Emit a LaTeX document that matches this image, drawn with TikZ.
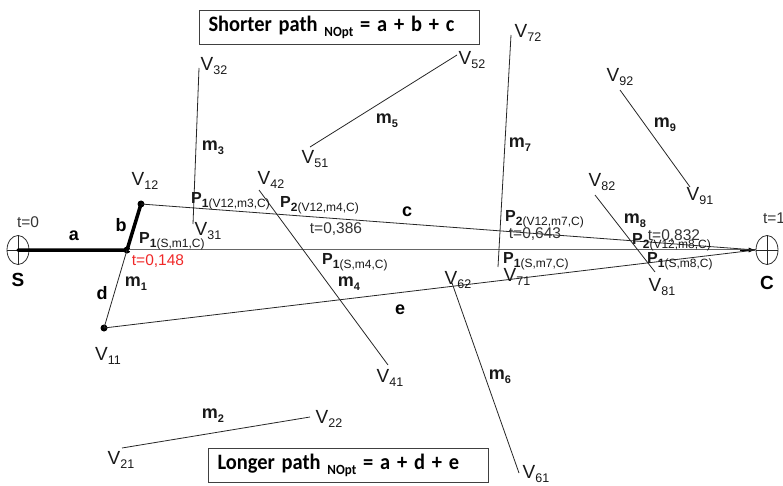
\documentclass[tikz,border=0pt]{standalone}
\usepackage{fontspec}
\setmainfont{Liberation Sans}
\newfontfamily\boxfont{Carlito}
\usetikzlibrary{shapes.geometric,arrows.meta}
\newcommand\fs[1]{\fontsize{#1}{#1}\selectfont}
\newcommand\lsub[3][-4pt]{\raisebox{#1}{\fs{#2}#3}}
\newcommand\Vlab[1]{\fs{19}V\lsub{12.5}{#1}}
\newcommand\mlab[1]{\fs{18}\bfseries m\lsub{11}{#1}}
\newcommand\Plab[2]{\fs{16}\bfseries P\lsub{12}{#1\mdseries #2}}
\newcommand\boxtext[1]{\scalebox{0.93}[1]{#1}}
\definecolor{tred}{RGB}{240,40,40}
\begin{document}
\begin{tikzpicture}[x=1pt,y=-1pt,
  seg/.style={draw=black!85, line width=0.8pt},
  thick path/.style={draw=black, line width=3.5pt},
  axis line/.style={draw=black!60, double=white, double distance=0.7pt, line width=0.6pt},
  lab/.style={inner sep=0pt, anchor=center, text=black!90},
  plab/.style={inner sep=0pt, anchor=west, text=black!90},
  tlab/.style={inner sep=0pt, anchor=center, text=black!80, font=\fs{15.5}},
  bold lab/.style={inner sep=0pt, anchor=center, font=\fs{18}\bfseries},
  dot/.style={circle, fill=black, inner sep=0pt, minimum size=7pt},
  term/.style={draw=black!80, ellipse, minimum width=22pt, minimum height=29pt, inner sep=0pt, line width=0.8pt},
  pathbox/.style={draw=black!75, line width=1pt, minimum height=34pt, anchor=north west,
     inner xsep=9pt, inner ysep=0pt, text width=262pt, align=left, font=\boxfont\bfseries\fs{22}}]
\useasboundingbox (0,0) rectangle (783,486);

% path boxes
\node[pathbox] (short) at (199,10) {\boxtext{Shorter path \lsub[-5pt]{14}{NOpt} = a + b + c}};
\node[pathbox] (long) at (208,448) {\boxtext{Longer path \lsub[-5pt]{14}{NOpt} = a + d + e}};

% terminals
\node[term] (S) at (18,250) {};
\node[term] (C) at (767,250) {};
\draw[seg] (S.north) -- (S.south) (S.west) -- (S.east);
\draw[seg] (C.north) -- (C.south) (C.west) -- (C.east);

% points
\node[dot] (V12) at (141,204) {};
\node[dot] (P1) at (127,250) {};
\node[dot] (V11) at (104,328) {};
\coordinate (V21) at (122,448);  \coordinate (V22) at (310,417);
\coordinate (V31) at (193,224);  \coordinate (V32) at (199,68);
\coordinate (V41) at (388,365);  \coordinate (V42) at (259,190);
\coordinate (V51) at (310,147);  \coordinate (V52) at (457,55);
\coordinate (V61) at (519,473);  \coordinate (V62) at (452,283);
\coordinate (V71) at (498,267);  \coordinate (V72) at (511,35);
\coordinate (V81) at (655,272);  \coordinate (V82) at (595,195);
\coordinate (V91) at (690,187);  \coordinate (V92) at (620,90);
\coordinate (ca) at (740,250);

% main line S-C
\draw[axis line] (P1.center) -- (C.west);
\draw[-{Latex[length=7pt,width=5pt]}, black, line width=0.8pt] (ca) -- (C.west);
\draw[thick path, line cap=round] (S.center) -- (P1.center) -- (V12.center);
\draw[seg] (P1.center) -- (V11.center);

% paths c and e
\draw[seg] (V12.center) -- (C.west);
\draw[seg] (V11.center) -- (C.west);

% segments
\draw[seg] (V21) -- (V22);
\draw[seg] (V31) -- (V32);
\draw[seg] (V41) -- (V42);
\draw[seg] (V51) -- (V52);
\draw[seg] (V61) -- (V62);
\draw[seg] (V71) -- (V72);
\draw[seg] (V81) -- (V82);
\draw[seg] (V91) -- (V92);

% vertex labels
\node[lab] (lV11) at (108,356) {\Vlab{11}};
\node[lab] (lV12) at (145,181) {\Vlab{12}};
\node[lab] (lV21) at (121,460) {\Vlab{21}};
\node[lab] (lV22) at (329,419) {\Vlab{22}};
\node[lab] (lV31) at (208,231) {\Vlab{31}};
\node[lab] (lV32) at (214,66) {\Vlab{32}};
\node[lab] (lV41) at (390,378) {\Vlab{41}};
\node[lab] (lV42) at (271,180) {\Vlab{42}};
\node[lab] (lV51) at (315,159) {\Vlab{51}};
\node[lab] (lV52) at (472,60) {\Vlab{52}};
\node[lab] (lV61) at (536,474) {\Vlab{61}};
\node[lab] (lV62) at (458,280) {\Vlab{62}};
\node[lab] (lV71) at (517,277) {\Vlab{71}};
\node[lab] (lV72) at (528,33) {\Vlab{72}};
\node[lab] (lV81) at (662,287) {\Vlab{81}};
\node[lab] (lV82) at (602,182) {\Vlab{82}};
\node[lab] (lV91) at (700,196) {\Vlab{91}};
\node[lab] (lV92) at (620,77) {\Vlab{92}};

% segment labels
\node[lab] (lm1) at (136,284) {\mlab{1}};
\node[lab] (lm2) at (213,416) {\mlab{2}};
\node[lab] (lm3) at (213,148) {\mlab{3}};
\node[lab] (lm4) at (349,284) {\mlab{4}};
\node[lab] (lm5) at (387,121) {\mlab{5}};
\node[lab] (lm6) at (500,377) {\mlab{6}};
\node[lab] (lm7) at (520,145) {\mlab{7}};
\node[lab] (lm8) at (635,221) {\mlab{8}};
\node[lab] (lm9) at (665,125) {\mlab{9}};

% path letters
\node[bold lab] (la) at (74,236) {a};
\node[bold lab] (lb) at (121,225) {b};
\node[bold lab] (lc) at (407,212) {c};
\node[bold lab] (ld) at (102,293) {d};
\node[bold lab] (le) at (400,310) {e};
\node[bold lab, font=\fs{19}\bfseries] (lS) at (18,280) {S};
\node[bold lab, font=\fs{19}\bfseries] (lC) at (767,283) {C};

% t labels
\node[tlab] (t0) at (28,222) {t=0};
\node[tlab] (t1) at (774,218) {t=1};
\node[tlab, text=tred] (t148) at (158,261) {t=0,148};
\node[tlab] (t386) at (336,229) {t=0,386};
\node[tlab] (t643) at (535,234) {t=0,643};
\node[tlab] (t832) at (674,236) {t=0,832};

% intersection labels
\node[plab] (pS1) at (139,241) {\Plab{1}{(S,m1,C)}};
\node[plab] (pV3) at (191,201) {\Plab{1}{(V12,m3,C)}};
\node[plab] (pV4) at (280,205) {\Plab{2}{(V12,m4,C)}};
\node[plab] (pS4) at (322,262) {\Plab{1}{(S,m4,C)}};
\node[plab] (pV7) at (505,219) {\Plab{2}{(V12,m7,C)}};
\node[plab] (pS7) at (503,261) {\Plab{1}{(S,m7,C)}};
\node[plab] (pV8) at (632,242) {\Plab{2}{(V12,m8,C)}};
\node[plab] (pS8) at (647,261) {\Plab{1}{(S,m8,C)}};
\end{tikzpicture}
\end{document}
